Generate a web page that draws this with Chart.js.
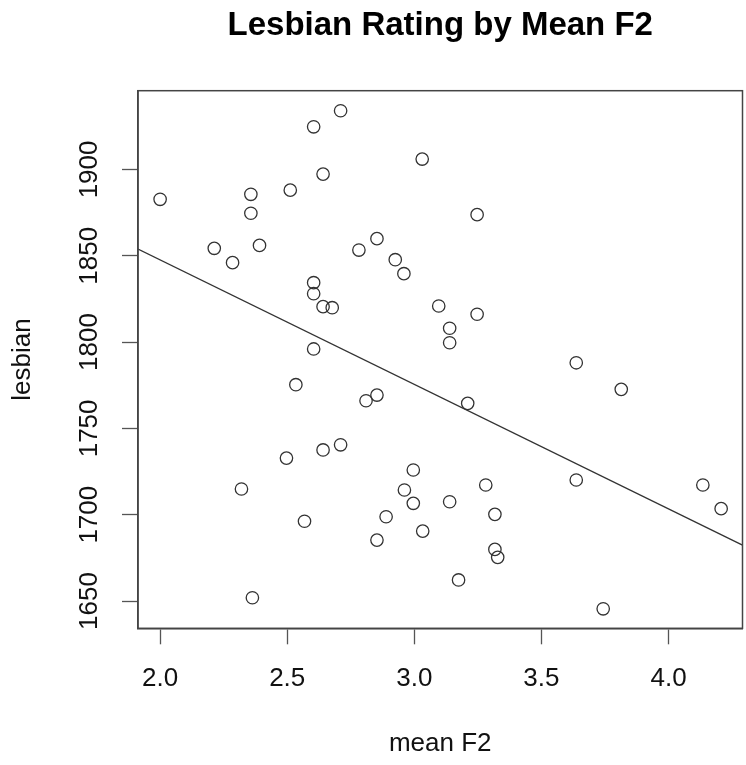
<!DOCTYPE html>
<html>
<head>
<meta charset="utf-8">
<script src="https://cdn.jsdelivr.net/npm/chart.js@4"></script>
<style>
  html, body { margin: 0; padding: 0; background: #fff; }
  canvas { display: block; }
</style>
</head>
<body>
<canvas id="c" width="746" height="765"></canvas>
<script>
// ---- data ----
const meanF2 = [2.71, 2.604, 3.031, 2.641, 2.512, 2.0, 2.357, 2.357, 2.213, 2.285,
  2.391, 2.782, 2.853, 2.925, 2.959, 2.604, 2.604, 2.641, 2.677, 3.096,
  2.604, 3.247, 3.247, 3.139, 3.139, 3.637, 2.534, 2.81, 2.853, 2.71,
  2.641, 2.497, 2.32, 2.996, 2.961, 2.996, 2.889, 3.033, 2.853, 2.568,
  2.363, 3.814, 3.21, 3.281, 3.139, 3.317, 3.317, 3.328, 3.174, 3.743,
  3.637, 4.135, 4.207];
const lesbian = [1934, 1924.7, 1906, 1897.3, 1888, 1882.7, 1885.6, 1874.6, 1854.3, 1846,
  1856, 1853.3, 1859.9, 1847.7, 1839.6, 1834.4, 1828, 1820.5, 1819.9, 1820.9,
  1796, 1873.8, 1816.1, 1808, 1799.6, 1788, 1775.3, 1766, 1769.3, 1740.5,
  1737.5, 1732.8, 1714.9, 1725.9, 1714.3, 1706.6, 1698.8, 1690.5, 1685.3, 1696.2,
  1651.9, 1772.6, 1764.5, 1717.2, 1707.5, 1700.2, 1679.9, 1675.3, 1662.2, 1645.5,
  1720.1, 1717.2, 1703.5];
// fitted line end points (read at the plot edges)
const fitX = [1.913, 4.291];
const fitY = [1853.9, 1682.4];
// axis ticks
const xTicks = [2.0, 2.5, 3.0, 3.5, 4.0];
const xTickLabels = ['2.0', '2.5', '3.0', '3.5', '4.0'];
const yTicks = [1650, 1700, 1750, 1800, 1850, 1900];
const yTickLabels = ['1650', '1700', '1750', '1800', '1850', '1900'];
const xRange = [1.913, 4.291];
const yRange = [1634.2, 1945.6];

const FONT = '"Liberation Sans", Arial, Helvetica, sans-serif';
const INK = '#333';

const boxPlugin = {
  id: 'box',
  afterDraw(chart) {
    const a = chart.chartArea, ctx = chart.ctx;
    ctx.save();
    ctx.strokeStyle = '#444';
    ctx.lineWidth = 1.5;
    ctx.strokeRect(a.left, a.top, a.right - a.left, a.bottom - a.top);
    ctx.restore();
  }
};

new Chart(document.getElementById('c'), {
  type: 'scatter',
  data: {
    datasets: [
      {
        data: meanF2.map((x, i) => ({ x: x, y: lesbian[i] })),
        showLine: false,
        pointRadius: 6.2,
        pointHoverRadius: 6.2,
        pointBorderWidth: 1.3,
        pointBorderColor: INK,
        pointBackgroundColor: 'rgba(0,0,0,0)'
      },
      {
        data: fitX.map((x, i) => ({ x: x, y: fitY[i] })),
        showLine: true,
        pointRadius: 0,
        borderColor: INK,
        borderWidth: 1.3
      }
    ]
  },
  options: {
    responsive: false,
    animation: false,
    events: [],
    layout: { autoPadding: false, padding: { left: 0, right: 3.5, top: 0, bottom: 0 } },
    plugins: {
      legend: { display: false },
      tooltip: { enabled: false },
      title: {
        display: true,
        fullSize: false,
        text: 'Lesbian Rating by Mean F2',
        color: '#000',
        font: { family: FONT, size: 33, weight: 'bold', lineHeight: 1.2 },
        padding: { top: 6.5, bottom: 44.6 }
      }
    },
    scales: {
      x: {
        type: 'linear',
        position: 'bottom',
        min: xRange[0],
        max: xRange[1],
        afterBuildTicks: s => { s.ticks = xTicks.map(v => ({ value: v })); },
        afterFit: s => { s.height = 765 - 628.3; s.paddingLeft = 0; s.paddingRight = 0; },
        ticks: {
          color: '#111',
          font: { family: FONT, size: 26 },
          padding: 18.7,
          maxRotation: 0,
          autoSkip: false,
          callback: (v, i) => xTickLabels[i]
        },
        grid: {
          display: true,
          drawOnChartArea: false,
          drawTicks: true,
          tickLength: 16,
          tickColor: '#555',
          tickWidth: 1.3
        },
        border: { display: true, color: '#444', width: 1.5 },
        title: {
          display: true,
          text: 'mean F2',
          color: '#111',
          font: { family: FONT, size: 26, lineHeight: 1.2 },
          padding: { top: 0, bottom: 5.4 }
        }
      },
      y: {
        type: 'linear',
        position: 'left',
        min: yRange[0],
        max: yRange[1],
        afterBuildTicks: s => { s.ticks = yTicks.map(v => ({ value: v })); },
        afterFit: s => { s.width = 138; s.paddingTop = 0; s.paddingBottom = 0; },
        ticks: {
          color: '#111',
          font: { family: FONT, size: 26 },
          padding: 3.6,
          minRotation: 90,
          maxRotation: 90,
          crossAlign: 'center',
          autoSkip: false,
          callback: (v, i) => yTickLabels[i]
        },
        grid: {
          display: true,
          drawOnChartArea: false,
          drawTicks: true,
          tickLength: 16,
          tickColor: '#555',
          tickWidth: 1.3
        },
        border: { display: true, color: '#444', width: 1.5 },
        title: {
          display: true,
          text: 'lesbian',
          color: '#111',
          font: { family: FONT, size: 26, lineHeight: 1.2 },
          padding: { top: 7.7, bottom: 0 }
        }
      }
    }
  },
  plugins: [boxPlugin]
});
</script>
</body>
</html>
